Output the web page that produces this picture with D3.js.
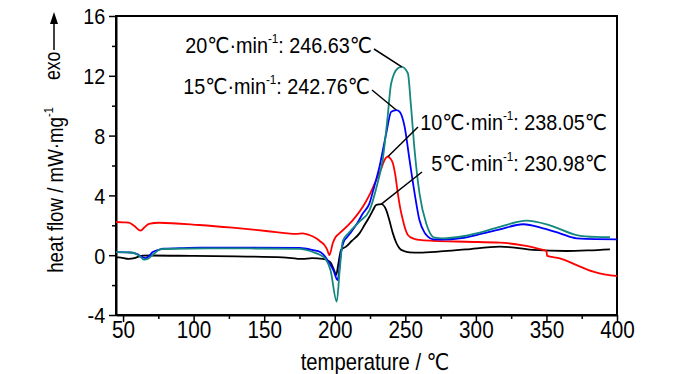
<!DOCTYPE html>
<html>
<head>
<meta charset="utf-8">
<script src="https://cdn.jsdelivr.net/npm/d3@7/dist/d3.min.js"></script>
<style>
  body { margin: 0; background: #fff; }
  text { font-family: "Liberation Sans", Arial, "DejaVu Sans", sans-serif; fill: #000; }
</style>
</head>
<body>
<svg id="chart" width="700" height="374"></svg>
<script>
// DSC curves, [temperature °C, heat flow mW/mg]
const rate5 = [[45,-0.14],[47,-0.14],[54,-0.25],[58,-0.2],[61,-0.1],[64,-0.03],[70,-0.02],[100,-0.05],[130,-0.08],
  [163,-0.14],[177,-0.25],[184,-0.2],[191.5,-0.25],[195,-0.35],[197.4,-0.54],[199.5,-1.0],[201,-1.32],[202.5,-0.6],
  [204.5,0.35],[208,0.57],[212,0.95],[217.5,1.46],[221,2.0],[224.6,2.57],[227,3.0],[229.4,3.36],[233,3.42],
  [236.5,3.02],[238.5,2.4],[241.2,1.46],[243.5,0.85],[245.9,0.46],[249,0.28],[253,0.19],[260,0.17],[275,0.25],
  [293,0.39],[317,0.57],[330,0.48],[340.6,0.35],[364,0.28],[380,0.32],[395,0.39]];

const rate10 = [[45,2.22],[50,2.2],[54,2.18],[58,1.95],[62.5,1.64],[65,1.85],[68.4,2.09],[75.5,2.17],[104,2.02],
  [127.6,1.84],[151.3,1.62],[172.6,1.42],[177.3,1.46],[182,1.35],[186.8,1.13],[190,0.9],[192.7,0.68],[194.7,0.35],
  [196.2,0.01],[198.6,0.8],[200.5,1.2],[203.3,1.46],[210.4,2.09],[215,2.6],[219.9,3.24],[225,4.1],[229.4,5.03],
  [233,5.8],[235.3,6.37],[237.6,6.59],[239.5,6.45],[241.2,6.15],[243,5.3],[244.7,4.14],[246.5,3.1],[248.3,2.35],
  [250,1.75],[251.8,1.35],[256,1.1],[260.1,1.02],[270,0.96],[293,0.9],[317,0.84],[333.5,0.66],[347.7,0.35],
  [350,0.28],[350.5,-0.05],[359.5,-0.21],[371.4,-0.66],[383.2,-1.1],[392,-1.3],[400,-1.39]];

const rate15 = [[45,0.2],[55,0.18],[60,0.08],[63,-0.1],[66,-0.2],[68.5,-0.05],[70.8,0.2],[75,0.35],[78.5,0.43],
  [90,0.47],[104,0.5],[140,0.5],[175,0.48],[184,0.35],[190,0.2],[194,-0.2],[195.5,-0.43],[199,-1.0],[202,-1.66],
  [204.5,0.2],[206.9,1.02],[208,1.13],[215,2.0],[220,2.8],[224.6,3.47],[228,4.6],[231.7,5.92],[236.5,8.15],
  [240,9.6],[243.6,9.71],[245.9,9.6],[249.5,8.6],[253,6.37],[256.6,4.14],[260,2.35],[263.7,1.5],[266,1.24],
  [269.6,1.06],[275,1.05],[290,1.15],[300.4,1.35],[317,1.73],[333.5,2.07],[347.7,1.8],[360,1.45],[371.4,1.13],
  [385,1.07],[400,1.06]];

const rate20 = [[45,0.2],[55,0.18],[60,0.05],[62.5,-0.12],[64.9,-0.3],[68,-0.22],[72,0.1],[76.7,0.4],[85,0.43],
  [110,0.45],[140,0.45],[175,0.42],[184,0.23],[190,0.0],[193.9,-0.3],[197,-1.0],[201.4,-3.1],[203.5,-1.0],
  [205.7,0.95],[210,1.5],[217,2.2],[224.6,3.0],[230,4.7],[234,6.4],[237,8.8],[240,11.5],[244.7,12.5],
  [247.5,12.6],[251.8,12.17],[254,10.0],[256.6,7.0],[260.1,4.1],[264.9,2.1],[267,1.57],[270,1.2],[276.5,1.13],
  [290,1.25],[300.4,1.46],[317,1.9],[336,2.31],[352.4,2.0],[371.4,1.35],[385,1.22],[395,1.2]];

const rateNames = ["20", "15", "10", "5"];
const peakTemps = ["246.63", "242.76", "238.05", "230.98"];

const xTicks = [50, 100, 150, 200, 250, 300, 350, 400];
const xMinor = [75, 125, 175, 225, 275, 325, 375];
const yTicks = [-4, 0, 4, 8, 12, 16];
const yMinor = [-2, 2, 6, 10, 14];

const svg = d3.select('#chart');

const x = d3.scaleLinear().domain([45, 400]).range([116, 617]);
const y = d3.scaleLinear().domain([-4, 16]).range([315, 16]);

// frame
svg.append('rect')
  .attr('x', 116).attr('y', 16)
  .attr('width', 617 - 116).attr('height', 315 - 16)
  .attr('fill', 'none').attr('stroke', '#000').attr('stroke-width', 2);

// x axis
const xAxis = svg.append('g').attr('transform', 'translate(0,315)');
xAxis.call(d3.axisBottom(x).tickValues(xTicks).tickSize(7).tickSizeOuter(0).tickFormat(d => String(d)));
xAxis.append('g').call(d3.axisBottom(x).tickValues(xMinor).tickSize(4).tickSizeOuter(0).tickFormat(''))
  .select('.domain').remove();
xAxis.selectAll('.domain').attr('stroke-width', 2);
xAxis.selectAll('line').attr('stroke-width', 1.5);
xAxis.selectAll('text')
  .attr('font-size', 23).attr('font-family', null)
  .attr('y', 23).attr('dy', 0)
  .attr('transform', 'scale(0.9,1)');

// y axis
const yAxis = svg.append('g').attr('transform', 'translate(116,0)');
yAxis.call(d3.axisLeft(y).tickValues(yTicks).tickSize(7).tickSizeOuter(0).tickFormat(d => String(d)));
yAxis.append('g').call(d3.axisLeft(y).tickValues(yMinor).tickSize(4).tickSizeOuter(0).tickFormat(''))
  .select('.domain').remove();
yAxis.selectAll('.domain').attr('stroke-width', 2);
yAxis.selectAll('line').attr('stroke-width', 1.5);
yAxis.selectAll('text')
  .attr('font-size', 22).attr('font-family', null)
  .attr('x', -12).attr('dy', '0.36em')
  .attr('transform', 'scale(0.9,1)');

// curves
const line = d3.line()
  .x(d => x(d[0]))
  .y(d => y(d[1]))
  .curve(d3.curveMonotoneX);

const series = [
  {data: rate5,  color: '#000000'},
  {data: rate10, color: '#ff0000'},
  {data: rate15, color: '#0000ff'},
  {data: rate20, color: '#13877f'}
];

svg.selectAll('path.curve')
  .data(series)
  .join('path')
  .attr('class', 'curve')
  .attr('d', d => line(d.data))
  .attr('fill', 'none')
  .attr('stroke', d => d.color)
  .attr('stroke-width', 1.8)
  .attr('stroke-linejoin', 'round');

// peak annotations: text right end / baseline, leader start
const notes = [
  {data: rate20, tx: 372, ty: 53,  lx: 374, ly: 49},
  {data: rate15, tx: 370, ty: 94,  lx: 372, ly: 90},
  {data: rate10, tx: 607, ty: 130, lx: 418, ly: 127},
  {data: rate5,  tx: 607, ty: 171, lx: 422, ly: 172}
];

notes.forEach((n, i) => {
  const peak = n.data.reduce((a, b) => (b[1] > a[1] ? b : a));
  svg.append('line')
    .attr('x1', n.lx).attr('y1', n.ly)
    .attr('x2', x(peak[0])).attr('y2', y(peak[1]))
    .attr('stroke', '#000').attr('stroke-width', 1.5);

  const t = svg.append('text')
    .attr('transform', `translate(${n.tx},${n.ty}) scale(0.9,1)`)
    .attr('text-anchor', 'end')
    .attr('font-size', 22);
  t.append('tspan').text(rateNames[i] + '℃·min');
  t.append('tspan').attr('font-size', 13).attr('dy', -10).text('-1');
  t.append('tspan').attr('dy', 10).text(': ' + peakTemps[i] + '℃');
});

// axis titles
svg.append('text')
  .attr('transform', 'translate(375,370) scale(0.88,1)')
  .attr('text-anchor', 'middle')
  .attr('font-size', 23)
  .text('temperature / ℃');

const yl = svg.append('text')
  .attr('transform', 'translate(63,190) rotate(-90) scale(0.85,1)')
  .attr('text-anchor', 'middle')
  .attr('font-size', 22);
yl.append('tspan').text('heat flow / mW·mg');
yl.append('tspan').attr('font-size', 13).attr('dy', -10).text('-1');

// exo arrow
svg.append('text')
  .attr('transform', 'translate(60,80) rotate(-90) scale(0.8,1)')
  .attr('font-size', 22)
  .text('exo');
svg.append('line')
  .attr('x1', 54).attr('y1', 50).attr('x2', 54).attr('y2', 22)
  .attr('stroke', '#000').attr('stroke-width', 1.5);
svg.append('path')
  .attr('d', 'M54,12 L50,24 L58,24 Z')
  .attr('fill', '#000');
</script>
</body>
</html>
